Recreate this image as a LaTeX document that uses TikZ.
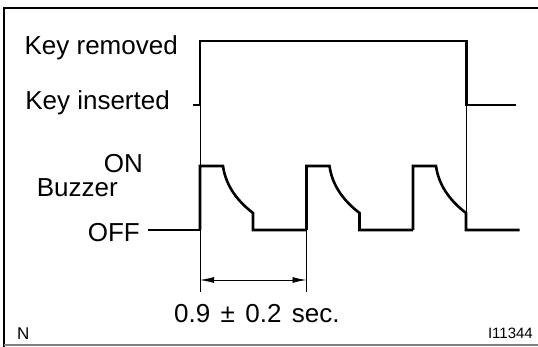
\documentclass[tikz,border=0pt]{standalone}
\usepackage{fontspec}
\setmainfont{Liberation Sans}
\usetikzlibrary{arrows.meta}
\usetikzlibrary{calc}

\begin{document}
\begin{tikzpicture}[x=1pt,y=-1pt]
        \tikzstyle{lbl} = [inner sep=0pt, font=\fontsize{26}{30}\selectfont]
        \tikzstyle{sig} = [line width=2.6pt]
        \tikzstyle{guide} = [line width=0.9pt]
        \tikzstyle{span} = [guide, >={Latex[length=14pt,width=6pt]}, <->]

        \useasboundingbox (0,0) rectangle (538,347);
        \draw[line width=2.4pt] (538,8) -- (4,8) -- (4,347);
        \draw[gray, line width=1.2pt] (4,345) -- (538,345);

        \node[lbl, anchor=base east] (removed) at (178,55) {Key removed};
        \node[lbl, anchor=base east] (inserted) at (170,110) {Key inserted};
        \node[lbl, anchor=base east] (on) at (143,173) {ON};
        \node[lbl, anchor=base east] (buzzer) at (118,197) {Buzzer};
        \node[lbl, anchor=base east] (off) at (140,242) {OFF};
        \node[lbl, anchor=base west] (period) at (174,322) {0.9\hspace{0.4em}±\hspace{0.4em}0.2\hspace{0.4em}sec.};
        \node[inner sep=0pt, anchor=base west, font=\fontsize{17}{20}\selectfont] (corner) at (17,339) {N};
        \node[inner sep=0pt, anchor=base east, font=\fontsize{15}{18}\selectfont] (fig) at (533,338) {I11344};

        \coordinate (k0) at (193,105);
        \coordinate (k1) at (466.5,105);
        \draw[sig] (k0) -- (200,105) -- (200,41) -- (466.5,41) -- (k1) -- (516,105);

        \draw[sig] (148,230) -- (200,230);
        \foreach \i in {0,1,2}
        {
                \coordinate (p\i) at ({200+106.5*\i},230);
                \draw[sig] (p\i) -- ++(0,-64) -- ++(23,0)
                        .. controls +(3,22) and +(-13,-10) .. ++(30,47)
                        -- ++(0,17) -- ++(53.5,0);
        }

        \coordinate (g0) at (200,292);
        \coordinate (g1) at (306.5,292);
        \draw[guide] (200,41) -- (g0);
        \draw[guide] (p1) -- (g1);
        \draw[guide] (k1) -- (466.5,213);
        \draw[span] ($(g0)+(0,-12)$) -- ($(g1)+(0,-12)$);
\end{tikzpicture}
\end{document}
